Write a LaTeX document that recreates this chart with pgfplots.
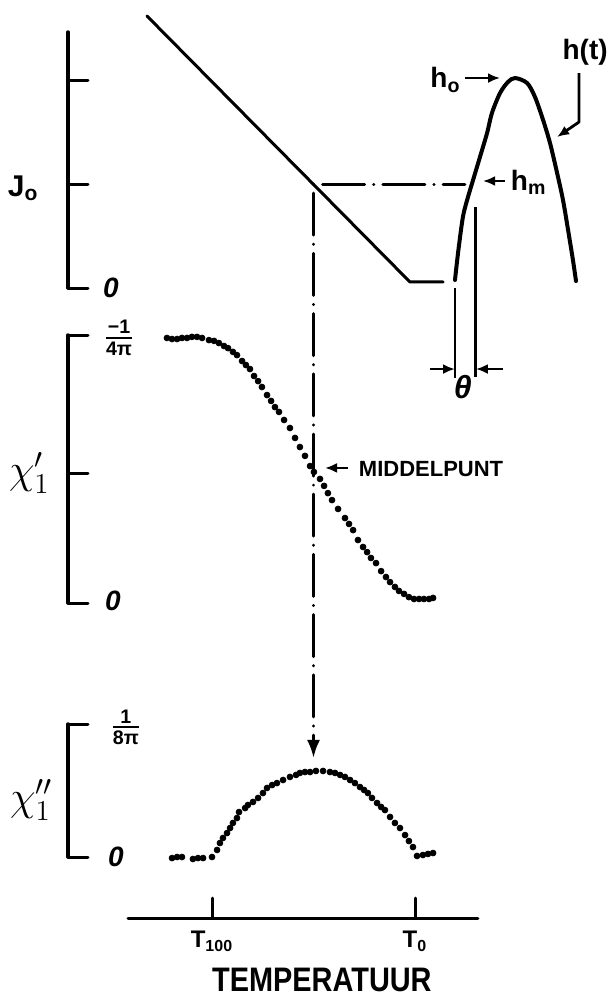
\documentclass[border=0pt]{standalone}
\usepackage{fontspec}
\setmainfont{Liberation Sans}
\usepackage{amsmath}
\usepackage{graphicx}
\usepackage{pgfplots}
\pgfplotsset{compat=1.18}
\usetikzlibrary{arrows.meta}

% x is the reduced temperature: 0 at T_100, 1 at T_0
\pgfplotsset{
  panel/.style={
    clip=false, enlargelimits=false, anchor=south west,
    x=101.5pt, xmin=-0.7094, xmax=1.9655,
    axis x line=none, axis y line=left,
    axis line style={-, line width=1.75pt, line cap=round},
    xtick=\empty, tick align=inside, major tick length=10pt,
    major tick style={line width=1.5pt, line cap=round, black},
    yticklabel={\mbox{}},
  },
  dots/.style={only marks, mark=*, mark size=1.45pt, black},
}
\tikzset{
  dashdot/.style={line width=1.5pt, line cap=round,
    dash pattern=on 0.1pt off 4.5pt on 21pt off 4.5pt},
  pointer/.style={line width=1.4pt, -{Latex[length=6pt,width=5pt]}},
  lab/.style={font=\fontsize{14}{16}\selectfont\bfseries, inner sep=0pt},
  zero/.style={font=\fontsize{14}{16}\selectfont\bfseries\itshape, inner sep=0pt},
  chi/.style={font=\fontsize{22}{24}\selectfont, inner sep=0pt},
  frac/.style={font=\fontsize{14}{16}\selectfont, inner sep=0pt},
}

\begin{document}
\begin{tikzpicture}
\path[use as bounding box] (0,0) rectangle (305.5pt,-498.5pt);

% ---------- J_0(T) and the field pulse h(t) ----------
\begin{axis}[panel, at={(34pt,-144pt)}, y=52pt, ymin=0, ymax=2.4615, ytick={0,1,2}]
  \addplot[line width=1.5pt, line join=round, line cap=round]
    coordinates {(-0.320,2.615) (0.975,0.058) (1.138,0.058)};
  \addplot[smooth, line width=2pt, line cap=round] coordinates {
    (1.197,0.077) (1.212,0.337) (1.236,0.683) (1.261,0.875) (1.286,1.038)
    (1.320,1.260) (1.355,1.490) (1.379,1.683) (1.419,1.875) (1.458,1.981)
    (1.493,2.019) (1.552,1.971) (1.591,1.837) (1.631,1.615) (1.665,1.394)
    (1.700,1.106) (1.729,0.846) (1.754,0.558) (1.778,0.269) (1.793,0.067)};
  % pulse width theta
  \draw[line width=1.2pt] (axis cs:1.197,0) -- (axis cs:1.197,-0.865);
  \draw[line width=1.5pt] (axis cs:1.300,0.779) -- (axis cs:1.300,-0.856);
  \draw[pointer] (axis cs:1.074,-0.779) -- (axis cs:1.197,-0.779);
  \draw[pointer] (axis cs:1.433,-0.779) -- (axis cs:1.300,-0.779);
  \node[font=\fontsize{16}{18}\selectfont\bfseries\itshape, inner sep=0pt]
    at (axis cs:1.236,-0.952) {θ};
  % construction lines
  \draw[dashdot] (axis cs:0.5,1.0) -- (axis cs:1.246,1.0);
  \draw[dashdot, -{Latex[length=9pt,width=6.5pt]}] (axis cs:0.5,1.0) -- (axis cs:0.5,-4.519);
  % labels
  \node[lab, font=\fontsize{15}{17}\selectfont\bfseries] at (axis cs:-0.930,0.962) {J\textsubscript{o}};
  \node[zero] at (axis cs:-0.498,0) {0};
  \node[lab] at (axis cs:1.150,2.0) {h\textsubscript{o}};
  \draw[pointer] (axis cs:1.246,2.019) -- (axis cs:1.419,2.019);
  \node[lab] at (axis cs:1.838,2.269) {h(t)};
  \draw[pointer, line join=round] (axis cs:1.808,2.067) -- (axis cs:1.808,1.596) -- (axis cs:1.700,1.452);
  \node[lab] at (axis cs:1.560,1.019) {h\textsubscript{m}};
  \draw[pointer] (axis cs:1.443,1.029) -- (axis cs:1.335,1.029);
\end{axis}

% ---------- chi'_1(T) ----------
\begin{axis}[panel, at={(34pt,-301.5pt)}, y=134pt, ymin=0, ymax=1, ytick={0,0.485,1}]
  \addplot[dots] coordinates {
    (-0.222,0.989) (-0.197,0.985) (-0.172,0.985) (-0.148,0.989) (-0.123,0.989)
    (-0.099,0.993) (-0.074,0.993) (-0.049,0.989) (-0.015,0.981) (0.010,0.978)
    (0.034,0.970) (0.059,0.959) (0.079,0.951) (0.103,0.937) (0.123,0.925)
    (0.148,0.903) (0.167,0.888) (0.187,0.873) (0.207,0.847) (0.227,0.828)
    (0.246,0.806) (0.271,0.776) (0.291,0.754) (0.310,0.731) (0.330,0.713)
    (0.355,0.683) (0.384,0.653) (0.409,0.616) (0.433,0.582) (0.458,0.549)
    (0.483,0.511) (0.502,0.489) (0.532,0.463) (0.552,0.437) (0.571,0.410)
    (0.591,0.384) (0.621,0.351) (0.655,0.317) (0.675,0.295) (0.695,0.272)
    (0.719,0.235) (0.744,0.209) (0.764,0.190) (0.783,0.168) (0.808,0.149)
    (0.833,0.119) (0.857,0.097) (0.877,0.078) (0.901,0.060) (0.921,0.045)
    (0.946,0.034) (0.970,0.022) (0.995,0.015) (1.020,0.015) (1.044,0.015)
    (1.069,0.015) (1.089,0.019)};
  \node[chi] at (axis cs:-0.900,0.485) {$\chi'_1$};
  \node[frac] at (axis cs:-0.458,0.989)
    {$\genfrac{}{}{1.2pt}{1}{\text{\bfseries −1}}{\text{\bfseries 4π}}$};
  \node[zero] at (axis cs:-0.488,0.007) {0};
  \draw[pointer] (axis cs:0.670,0.504) -- (axis cs:0.557,0.504);
  \node[font=\fontsize{11}{13}\selectfont\bfseries, inner sep=0pt]
    at (axis cs:1.079,0.5) {MIDDELPUNT};
\end{axis}

% ---------- chi''_1(T) ----------
\begin{axis}[panel, at={(34pt,-428.5pt)}, y=66.5pt, ymin=0, ymax=1, ytick={0,1}]
  \addplot[dots] coordinates {
    (-0.197,-0.008) (-0.172,0) (-0.148,0) (-0.094,-0.015) (-0.069,-0.008)
    (-0.044,-0.008) (0,0) (0.025,0.053) (0.039,0.105) (0.054,0.143)
    (0.074,0.180) (0.089,0.218) (0.103,0.256) (0.123,0.293) (0.133,0.338)
    (0.163,0.368) (0.177,0.391) (0.202,0.414) (0.227,0.444) (0.251,0.481)
    (0.271,0.519) (0.296,0.541) (0.320,0.556) (0.350,0.579) (0.384,0.602)
    (0.414,0.617) (0.433,0.632) (0.458,0.639) (0.483,0.639) (0.512,0.647)
    (0.547,0.647) (0.581,0.639) (0.606,0.632) (0.631,0.617) (0.655,0.602)
    (0.680,0.579) (0.704,0.556) (0.729,0.526) (0.749,0.504) (0.768,0.481)
    (0.788,0.444) (0.813,0.406) (0.833,0.376) (0.852,0.353) (0.877,0.301)
    (0.901,0.256) (0.926,0.218) (0.951,0.165) (0.970,0.120) (0.990,0.075)
    (1.010,0.008) (1.039,0.015) (1.064,0.023) (1.089,0.030)};
  \node[chi] at (axis cs:-0.890,0.429) {$\chi''_1$};
  \node[frac] at (axis cs:-0.424,0.977)
    {$\genfrac{}{}{1.2pt}{1}{\text{\bfseries 1}}{\text{\bfseries 8π}}$};
  \node[zero] at (axis cs:-0.473,0) {0};
\end{axis}

% ---------- temperature axis ----------
\begin{axis}[clip=false, enlargelimits=false, anchor=south west, at={(64pt,-459pt)},
  x=101.5pt, y=10pt, xmin=-0.4138, xmax=1.3103, ymin=0, ymax=1,
  axis x line=bottom, axis y line=none,
  axis line style={-, line width=1.5pt, line cap=round},
  xtick={0,1}, xticklabels={T\textsubscript{100}, T\textsubscript{0}},
  tick align=inside, major tick length=10pt,
  major tick style={line width=1.5pt, line cap=round, black},
  xticklabel style={font=\fontsize{12}{14}\selectfont\bfseries, yshift=-3pt},
  xlabel={\scalebox{0.85}[1]{TEMPERATUUR}},
  xlabel style={font=\fontsize{17}{19}\selectfont\bfseries,
    at={(axis description cs:0.554,0)}, anchor=center, yshift=-31pt},
]
  \addplot[draw=none] coordinates {(0,0) (1,0)};
\end{axis}
\end{tikzpicture}
\end{document}
